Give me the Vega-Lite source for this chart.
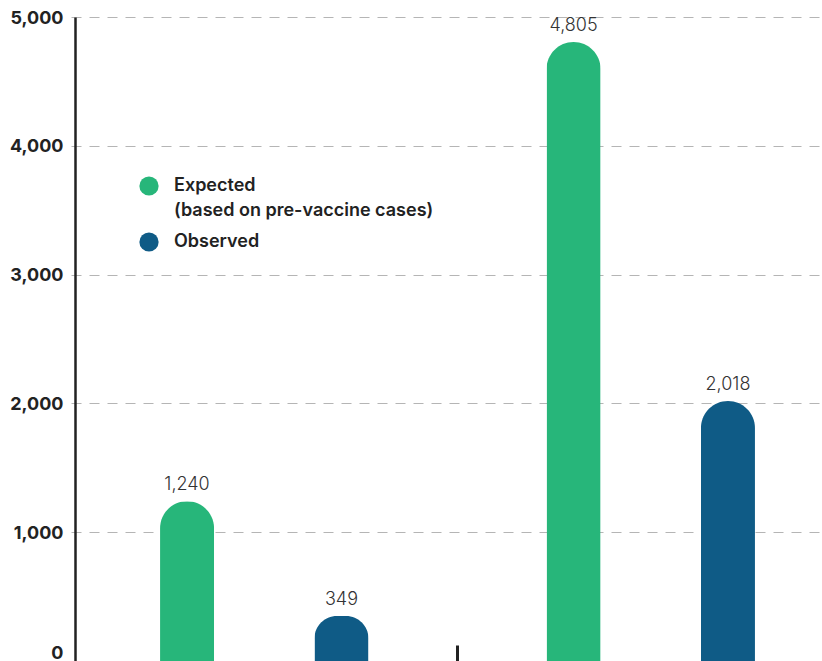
{
  "$schema": "https://vega.github.io/schema/vega-lite/v6.json",
  "autosize": {"type": "none"},
  "padding": {"left": 75, "top": 17, "right": 0, "bottom": 0},
  "width": 747,
  "height": 644,
  "background": "white",
  "config": {
    "view": {"stroke": null},
    "font": "Inter",
    "style": {"guide-label": {"lineHeight": 25}}
  },
  "data": {
    "values": [
      {"group": "A", "series": "Expected", "value": 1240},
      {"group": "A", "series": "Observed", "value": 349},
      {"group": "B", "series": "Expected", "value": 4805},
      {"group": "B", "series": "Observed", "value": 2018}
    ]
  },
  "encoding": {
    "x": {
      "field": "group",
      "type": "nominal",
      "scale": {"range": [-4, 769], "paddingInner": 0, "paddingOuter": 0},
      "axis": {
        "title": null,
        "labels": false,
        "values": ["B"],
        "bandPosition": 0,
        "tickExtra": false,
        "tickSize": -16,
        "tickWidth": 3,
        "tickColor": "#222222",
        "domainColor": "#eeeeee",
        "domainWidth": 1,
        "grid": false
      }
    },
    "xOffset": {
      "field": "series",
      "type": "nominal",
      "scale": {"paddingInner": 0.65, "paddingOuter": 0.5766}
    },
    "y": {
      "field": "value",
      "type": "quantitative",
      "scale": {"domain": [0, 5000], "nice": false},
      "axis": {
        "title": null,
        "values": [0, 1000, 2000, 3000, 4000, 5000],
        "format": ",d",
        "labelFont": "Inter",
        "labelFontSize": 18,
        "labelFontWeight": "bold",
        "labelColor": "#222222",
        "labelPadding": 12,
        "labelOffset": 1,
        "labelBaseline": {"condition": {"test": "datum.value == 0", "value": "bottom"}, "value": "middle"},
        "ticks": false,
        "domainColor": "#222222",
        "domainWidth": 2.5,
        "gridColor": "#b5b5b5",
        "gridDash": [10, 8],
        "gridWidth": 1
      }
    }
  },
  "layer": [
    {
      "mark": {"type": "bar", "cornerRadiusTopLeft": 27, "cornerRadiusTopRight": 27},
      "encoding": {
        "color": {
          "field": "series",
          "type": "nominal",
          "scale": {"domain": ["Expected", "Observed"], "range": ["#27b67a", "#0f5b86"]},
          "legend": {
            "title": null,
            "orient": "none",
            "legendX": 64,
            "legendY": 159,
            "padding": 0,
            "symbolType": "circle",
            "symbolSize": 370,
            "symbolStrokeWidth": 0,
            "labelFont": "Inter",
            "labelFontSize": 18,
            "labelFontWeight": 600,
            "labelColor": "#222222",
            "labelOffset": 15,
            "labelLimit": 500,
            "labelBaseline": "middle",
            "rowPadding": 12,
            "labelExpr": "datum.label == 'Expected' ? ['Expected', '(based on pre-vaccine cases)'] : datum.label"
          }
        }
      }
    },
    {
      "mark": {"type": "text", "baseline": "alphabetic", "dy": -11, "font": "Inter", "fontSize": 18, "fontWeight": 300, "color": "#333333"},
      "encoding": {
        "text": {"field": "value", "type": "quantitative", "format": ","}
      }
    }
  ]
}
